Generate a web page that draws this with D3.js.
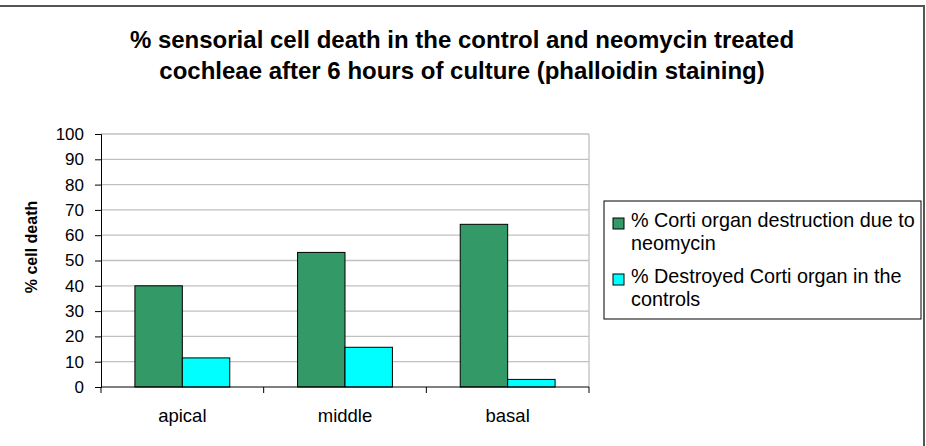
<!DOCTYPE html>
<html>
<head>
<meta charset="utf-8">
<script src="https://cdn.jsdelivr.net/npm/d3@7"></script>
<style>
  body { margin: 0; background: #fff; }
  svg { font-family: "Liberation Sans", Arial, sans-serif; display: block; }
</style>
</head>
<body>
<div class="chart"></div>
<script>
// data
const categories = ["apical", "middle", "basal"]
const seriesNames = ["% Corti organ destruction due to neomycin", "% Destroyed Corti organ in the controls"]
const neomycin = [40.0, 53.2, 64.3]
const controls = [11.5, 15.7, 3.0]
const yTicks = [0, 10, 20, 30, 40, 50, 60, 70, 80, 90, 100]
const colors = ["#339966", "#00ffff"]
const titleLines = ["% sensorial cell death in the control and neomycin treated",
                    "cochleae after 6 hours of culture (phalloidin staining)"]

class GroupedBars {
  constructor(width, height) {
    this.width = width
    this.height = height
    this.plot = {left: 101, right: 589, top: 134, bottom: 387}
    this.svg = d3.select(".chart").append("svg")
      .attr("width", width).attr("height", height)
    this.rows = categories.map((c, i) => ({name: c, values: [neomycin[i], controls[i]]}))

    this.createScales()
    this.drawFrame()
    this.drawGrid()
    this.drawBars()
    this.drawAxes()
    this.drawLegend()
  }

  createScales() {
    this.x0 = d3.scaleBand().domain(categories).range([this.plot.left, this.plot.right])
    this.x1 = d3.scaleBand().domain([0, 1]).range([0, this.x0.bandwidth()]).paddingOuter(0.715)
    this.y = d3.scaleLinear().domain([0, 100]).range([this.plot.bottom, this.plot.top])
  }

  drawFrame() {
    this.svg.append("rect")
      .attr("x", -3).attr("y", 6)
      .attr("width", this.width + 1).attr("height", this.height + 10)
      .attr("fill", "#fff").attr("stroke", "#555").attr("stroke-width", 2)

    this.svg.append("g").selectAll("text").data(titleLines).enter()
      .append("text")
      .attr("x", 462).attr("y", (d, i) => 48 + i * 31)
      .attr("text-anchor", "middle")
      .attr("font-size", 24).attr("font-weight", "bold").attr("fill", "#000")
      .text(d => d)
  }

  drawGrid() {
    const that = this
    this.svg.append("g").selectAll("line").data(yTicks.slice(1)).enter()
      .append("line")
      .attr("x1", this.plot.left).attr("x2", this.plot.right)
      .attr("y1", d => that.y(d)).attr("y2", d => that.y(d))
      .attr("stroke", "#c0c0c0").attr("stroke-width", 1.3)
    this.svg.append("line")
      .attr("x1", this.plot.right).attr("x2", this.plot.right)
      .attr("y1", this.plot.top).attr("y2", this.plot.bottom)
      .attr("stroke", "#c0c0c0").attr("stroke-width", 1.3)
  }

  drawBars() {
    const that = this
    this.svg.append("g").selectAll("g").data(this.rows).enter()
      .append("g")
      .attr("transform", d => "translate(" + that.x0(d.name) + ",0)")
      .selectAll("rect").data(d => d.values.map((v, k) => ({k: k, v: v}))).enter()
      .append("rect")
      .attr("x", d => that.x1(d.k))
      .attr("y", d => that.y(d.v))
      .attr("width", this.x1.bandwidth())
      .attr("height", d => that.y(0) - that.y(d.v))
      .attr("fill", d => colors[d.k])
      .attr("stroke", "#000").attr("stroke-width", 1)
  }

  drawAxes() {
    const axisY = this.svg.append("g")
      .attr("transform", "translate(" + this.plot.left + ",0)")
      .call(d3.axisLeft(this.y).tickValues(yTicks).tickSize(6).tickPadding(11))
    axisY.selectAll("text").attr("font-size", 17).attr("fill", "#000")
      .style("font-family", "Liberation Sans, Arial, sans-serif")
    axisY.selectAll("line, path").attr("stroke", "#000")

    const bounds = categories.map(c => this.x0(c)).concat([this.plot.right])
    const axisX = this.svg.append("g")
      .attr("transform", "translate(0," + this.plot.bottom + ")")
    axisX.append("line").attr("x1", this.plot.left).attr("x2", this.plot.right)
      .attr("stroke", "#000")
    axisX.selectAll("line.tick").data(bounds).enter()
      .append("line").attr("class", "tick")
      .attr("x1", d => d).attr("x2", d => d).attr("y1", 0).attr("y2", 6)
      .attr("stroke", "#000")
    axisX.selectAll("text").data(categories).enter()
      .append("text")
      .attr("x", d => this.x0(d) + this.x0.bandwidth() / 2)
      .attr("y", 35)
      .attr("text-anchor", "middle").attr("font-size", 18.5).attr("fill", "#000")
      .text(d => d)

    this.svg.append("text")
      .attr("transform", "translate(37,247) rotate(-90)")
      .attr("text-anchor", "middle")
      .attr("font-size", 16).attr("font-weight", "bold")
      .text("% cell death")
  }

  drawLegend() {
    const lg = this.svg.append("g").attr("transform", "translate(604,201)")
    lg.append("rect").attr("width", 317).attr("height", 118)
      .attr("fill", "#fff").attr("stroke", "#000").attr("stroke-width", 1)
    const lines = [["% Corti organ destruction due to", "neomycin"],
                   ["% Destroyed Corti organ in the", "controls"]]
    const item = lg.selectAll("g").data(seriesNames).enter()
      .append("g")
      .attr("transform", (d, i) => "translate(0," + (i * 56) + ")")
    item.append("rect")
      .attr("x", 9).attr("y", 17).attr("width", 11).attr("height", 11)
      .attr("fill", (d, i) => colors[i]).attr("stroke", "#000")
    item.append("text")
      .attr("x", 27).attr("y", 26)
      .attr("font-size", 19.8).attr("fill", "#000")
      .selectAll("tspan").data((d, i) => lines[i]).enter()
      .append("tspan")
      .attr("x", 27).attr("dy", (d, j) => j === 0 ? 0 : 23)
      .text(d => d)
  }
}

new GroupedBars(926, 446)
</script>
</body>
</html>
